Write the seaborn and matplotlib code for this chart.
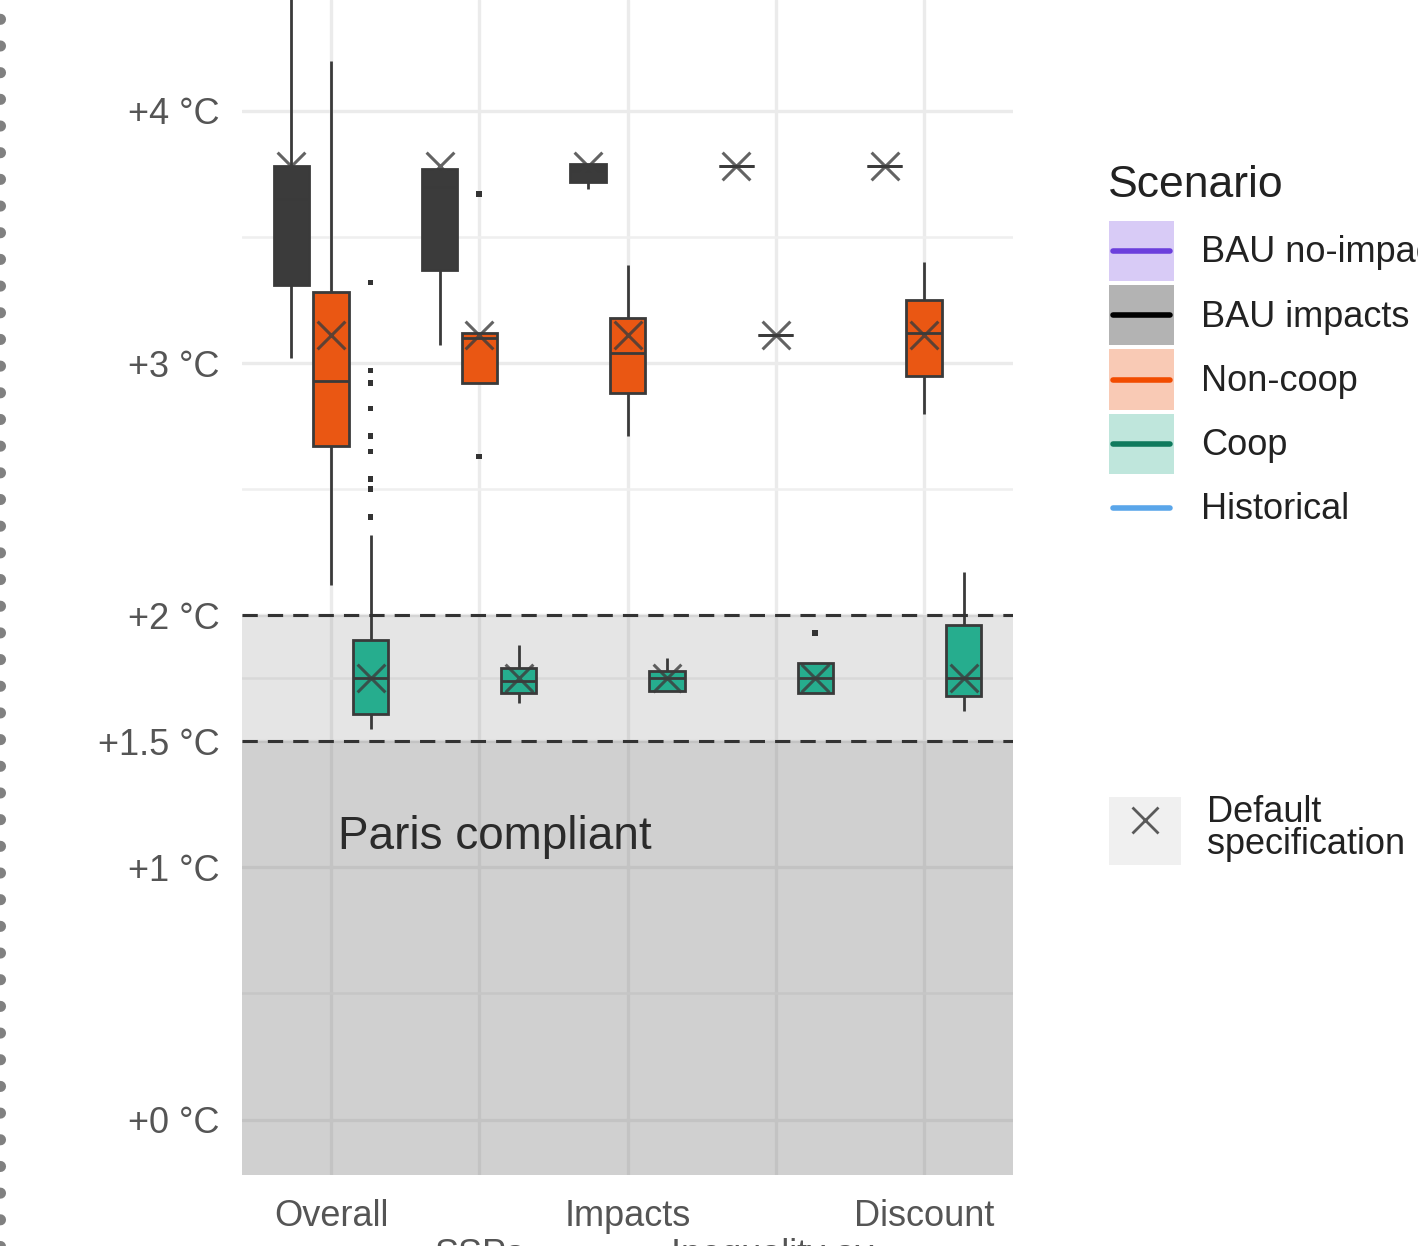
import pandas as pd
import matplotlib.pyplot as plt
import seaborn as sns
from matplotlib.patches import Patch, Rectangle
from matplotlib.lines import Line2D
from matplotlib.legend_handler import HandlerBase

sns.set_style("white")
plt.rcParams["font.family"] = ["Liberation Sans", "DejaVu Sans"]

categories = ["Overall", "SSPs", "Impacts", "Inequality av.", "Discount"]
scenarios = ["BAU impacts", "Non-coop", "Coop"]
box_colors = ["#3b3b3b", "#ea5713", "#26ad8e"]

# per category: whisker low, q1, median, q3, whisker high (warming in degC)
bau_stats = [
    [3.02, 3.31, 3.65, 3.78, 4.90],
    [3.07, 3.37, 3.70, 3.77, 3.77],
    [3.69, 3.72, 3.76, 3.79, 3.79],
    [3.78, 3.78, 3.78, 3.78, 3.78],
    [3.78, 3.78, 3.78, 3.78, 3.78],
]
noncoop_stats = [
    [2.12, 2.67, 2.93, 3.28, 4.20],
    [2.92, 2.92, 3.10, 3.12, 3.12],
    [2.71, 2.88, 3.04, 3.18, 3.39],
    [3.11, 3.11, 3.11, 3.11, 3.11],
    [2.80, 2.95, 3.12, 3.25, 3.40],
]
coop_stats = [
    [1.55, 1.61, 1.75, 1.90, 2.32],
    [1.65, 1.69, 1.74, 1.79, 1.88],
    [1.70, 1.70, 1.75, 1.78, 1.83],
    [1.69, 1.69, 1.75, 1.81, 1.81],
    [1.62, 1.68, 1.75, 1.96, 2.17],
]

# outliers
outlier_cat = ["Overall", "Overall", "Overall", "Overall", "Overall", "Overall",
               "Overall", "Overall", "Overall", "SSPs", "SSPs", "Inequality av."]
outlier_scen = ["Coop", "Coop", "Coop", "Coop", "Coop", "Coop",
                "Coop", "Coop", "Coop", "Non-coop", "Non-coop", "Coop"]
outlier_val = [3.32, 2.97, 2.92, 2.82, 2.71, 2.65, 2.54, 2.50, 2.39, 3.67, 2.63, 1.93]

# default specification
bau_default = [3.78, 3.78, 3.78, 3.78, 3.78]
noncoop_default = [3.11, 3.11, 3.11, 3.11, 3.11]
coop_default = [1.75, 1.75, 1.75, 1.75, 1.75]

ytick_vals = [0, 1, 1.5, 2, 3, 4]
ytick_labels = ["+0 °C", "+1 °C", "+1.5 °C", "+2 °C", "+3 °C", "+4 °C"]
xtick_labels = ["Overall", "\nSSPs", "Impacts", "\nInequality av.", "Discount"]

legend_labels = ["BAU no-impacts", "BAU impacts", "Non-coop", "Coop", "Historical"]
legend_fills = ["#d8cbf6", "#b3b3b3", "#f9cab5", "#bfe6dc", "none"]
legend_lines = ["#6b3fdc", "#000000", "#f24c00", "#0f7a5d", "#5aa6ea"]

rows = []
for scen, stats in zip(scenarios, [bau_stats, noncoop_stats, coop_stats]):
    for cat, s in zip(categories, stats):
        for v in s:
            rows.append((cat, scen, v))
box_df = pd.DataFrame(rows, columns=["category", "scenario", "value"])

rows = []
for scen, vals in zip(scenarios, [bau_default, noncoop_default, coop_default]):
    for cat, v in zip(categories, vals):
        rows.append((cat, scen, v))
def_df = pd.DataFrame(rows, columns=["category", "scenario", "value"])

out_df = pd.DataFrame({"category": outlier_cat, "scenario": outlier_scen, "value": outlier_val})

fig = plt.figure(figsize=(14.18, 12.46), dpi=100)
ax = fig.add_axes([242 / 1418, 71 / 1246, 771 / 1418, 1175 / 1246])

sns.boxplot(data=box_df, x="category", y="value", hue="scenario", order=categories,
            hue_order=scenarios, palette=box_colors, saturation=1, whis=(0, 100),
            width=0.8, gap=0.11, linewidth=2, linecolor="#3a3a3a", showfliers=False,
            showcaps=False, legend=False, ax=ax)
sns.stripplot(data=out_df, x="category", y="value", hue="scenario", order=categories,
              hue_order=scenarios, palette=["#333333"] * 3, dodge=True, jitter=False,
              marker="s", size=4, linewidth=0, legend=False, ax=ax, zorder=5)
sns.stripplot(data=def_df, x="category", y="value", hue="scenario", order=categories,
              hue_order=scenarios, palette=["#3c3c3c"] * 3, dodge=True, jitter=False,
              marker="x", size=20, linewidth=2.2, edgecolor="#3c3c3c", alpha=0.8,
              legend=False, ax=ax, zorder=6)

# Paris bands
ax.axhspan(-1, 2, color="#7f7f7f", alpha=0.2, lw=0, zorder=0.7)
ax.axhspan(-1, 1.5, color="#7f7f7f", alpha=0.2, lw=0, zorder=0.7)
ax.axhline(2, color="#333333", lw=2.2, ls=(0, (5, 3.3)), zorder=3)
ax.axhline(1.5, color="#333333", lw=2.2, ls=(0, (5, 3.3)), zorder=3)
ax.text(0.05, 1.12, "Paris compliant", fontsize=33, color="#2b2b2b", va="center", ha="left")

ax.set_xlim(-0.6, 4.6)
ax.set_ylim(-0.22, 4.44)
ax.set_yticks(ytick_vals)
ax.set_yticklabels(ytick_labels)
ax.set_yticks([0.5, 1.75, 2.5, 3.5], minor=True)
ax.set_xticks(range(len(categories)))
ax.set_xticklabels(xtick_labels)
for t in ax.get_xticklabels():
    t.set_linespacing(1.15)
ax.set_xlabel("")
ax.set_ylabel("")
ax.tick_params(axis="both", which="both", length=0, labelsize=26, labelcolor="#555555")
ax.tick_params(axis="y", pad=16)
ax.tick_params(axis="x", pad=17)
ax.set_axisbelow(True)
ax.grid(axis="both", which="major", color="#ebebeb", lw=2.4)
ax.grid(axis="y", which="minor", color="#efefef", lw=1.8)
for sp in ax.spines.values():
    sp.set_visible(False)


class KeyHandler(HandlerBase):
    # filled legend key with a centred line across it
    def __init__(self, fill, line, **kw):
        super().__init__(**kw)
        self.fill = fill
        self.line = line

    def create_artists(self, legend, orig_handle, xdescent, ydescent, width, height,
                       fontsize, trans):
        rect = Rectangle((-xdescent, -ydescent), width, height, fc=self.fill, ec="none",
                         transform=trans)
        y = -ydescent + height / 2
        ln = Line2D([-xdescent + 3, -xdescent + width - 3], [y, y], color=self.line, lw=4,
                    transform=trans)
        return [rect, ln]


# legend
fig.text(1108 / 1418, 1 - 197 / 1246, "Scenario", fontsize=32, color="#222222", va="baseline")
handles = [Patch() for _ in legend_labels]
hmap = {h: KeyHandler(f, c) for h, f, c in zip(handles, legend_fills, legend_lines)}
fig.legend(handles, legend_labels, handler_map=hmap, loc="upper left",
           bbox_to_anchor=(1109 / 1418, 1 - 221 / 1246), frameon=False, fontsize=26,
           labelcolor="#222222", handlelength=1.8, handleheight=2.19, labelspacing=0.11,
           handletextpad=0.75, borderpad=0, borderaxespad=0)
leg2 = fig.legend([(Patch(fc="#f0f0f0", ec="none"),
                    Line2D([], [], color="#5a5a5a", marker="x", ms=19, mew=2, ls="none"))],
                  ["Default\nspecification"], loc="upper left",
                  bbox_to_anchor=(1109 / 1418, 1 - 795 / 1246), frameon=False, fontsize=26,
                  labelcolor="#222222", handlelength=2.0, handleheight=2.49,
                  handletextpad=0.7, borderpad=0, borderaxespad=0)
leg2.get_texts()[0].set_linespacing(0.9)

# dotted frame at left edge
fig.add_artist(Line2D([0, 0], [0, 1], transform=fig.transFigure, lw=8, color="#808080",
                      ls=(0, (0.001, 2.4)), dash_capstyle="round"))

fig.savefig("out.png", dpi=100)
